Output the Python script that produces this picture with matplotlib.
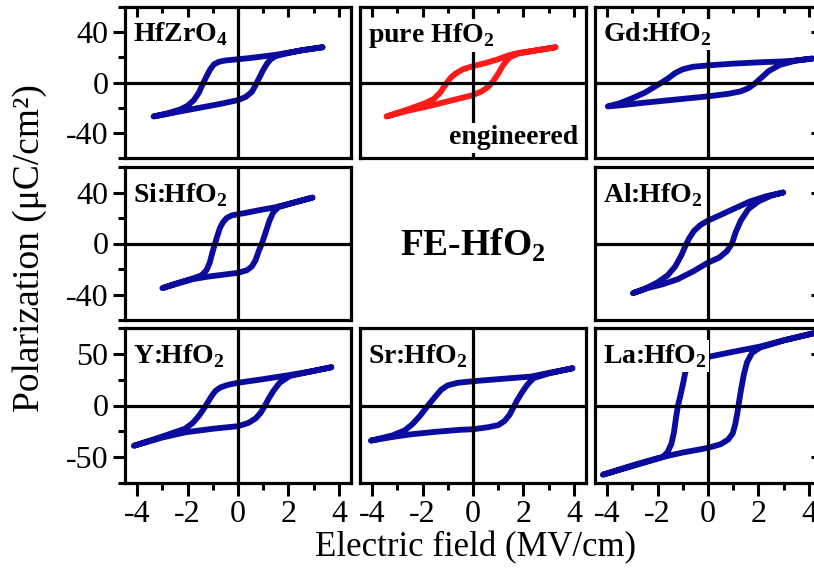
import matplotlib
matplotlib.use("Agg")
import matplotlib.pyplot as plt
from matplotlib.ticker import MultipleLocator

plt.rcParams['font.family'] = ['Liberation Serif', 'DejaVu Serif']
plt.rcParams['mathtext.fontset'] = 'custom'
plt.rcParams['mathtext.rm'] = 'Liberation Serif'
plt.rcParams['mathtext.bf'] = 'Liberation Serif:bold'
plt.rcParams['axes.unicode_minus'] = False

BLUE = '#0b0b9e'
RED = '#ff1a1a'

# P-E loops: upper branch swept from +E to -E, lower branch from -E back to +E
hzo_e_up = [3.35, 2.5, 1.5, 0.5, 0.0, -0.5, -0.75, -0.95, -1.1, -1.22, -1.37, -1.55, -1.75, -2.0, -2.3, -2.8, -3.35]
hzo_p_up = [28, 25.5, 22, 19.5, 18.5, 17.5, 16.5, 14.5, 10.5, 6, 0, -8, -14, -18.5, -21.5, -24.5, -27]
hzo_e_dn = [-3.35, -2.8, -2.3, -1.5, -0.7, 0.0, 0.3, 0.55, 0.7, 0.85, 1.0, 1.15, 1.3, 1.5, 1.9, 2.5, 3.35]
hzo_p_dn = [-27, -25, -23, -20, -17, -14, -11.5, -7.5, -2, 4, 10, 15, 18.5, 21, 23, 25.5, 28]

pure_e_up = [3.27, 2.5, 1.8, 1.4, 1.0, 0.5, 0.0, -0.4, -0.7, -0.9, -1.1, -1.3, -1.55, -1.9, -2.6, -3.43]
pure_p_up = [28, 25.5, 23.5, 21.5, 18.5, 15.5, 13, 10.5, 7, 3.5, -2, -8, -13, -16.5, -21.5, -27]
pure_e_dn = [-3.43, -2.6, -1.8, -1.0, -0.4, 0.0, 0.35, 0.6, 0.8, 1.0, 1.2, 1.45, 1.8, 2.5, 3.27]
pure_p_dn = [-27, -22.5, -19, -15, -12, -10, -7, -3.5, 1, 7, 14, 20, 23, 25.5, 28]

gd_e_up = [4.13, 3.5, 3.0, 2.0, 1.0, 0.0, -0.6, -1.0, -1.3, -1.6, -2.0, -2.5, -3.0, -3.5, -3.97]
gd_p_up = [19, 17.5, 16.8, 16, 15, 13.6, 12.5, 10.5, 7.5, 3, -2, -8, -12.5, -16.5, -19]
gd_e_dn = [-3.97, -3.4, -2.5, -1.0, 0.0, 0.8, 1.3, 1.6, 1.85, 2.1, 2.4, 2.85, 3.5, 4.13]
gd_p_dn = [-19, -18, -16, -13, -11, -9, -7, -4.5, -1, 3.5, 9, 14, 17.5, 19]

si_e_up = [2.95, 2.2, 1.5, 0.8, 0.3, 0.0, -0.25, -0.45, -0.6, -0.72, -0.85, -1.0, -1.12, -1.25, -1.45, -1.8, -2.4, -3.0]
si_p_up = [36, 32, 28.5, 26, 24, 23, 22, 20, 16.5, 12, 4, -6, -15, -21, -25, -27.5, -31, -35]
si_e_dn = [-3.0, -2.4, -1.8, -1.2, -0.6, 0.0, 0.35, 0.55, 0.7, 0.82, 0.95, 1.1, 1.25, 1.4, 1.6, 2.2, 2.95]
si_p_dn = [-35, -31.5, -28, -26, -24.5, -23, -21, -18, -13, -6, 0, 9, 18, 24.5, 28.5, 32, 36]

al_e_up = [2.98, 2.3, 1.67, 1.0, 0.4, 0.0, -0.3, -0.55, -0.75, -0.9, -1.05, -1.3, -1.6, -2.0, -2.5, -2.98]
al_p_up = [40, 37, 33, 27, 21.5, 18, 14.5, 10, 4, -2, -9, -18, -25, -30.5, -35.5, -39]
al_e_dn = [-2.98, -2.4, -1.8, -1.2, -0.6, 0.0, 0.45, 0.75, 0.95, 1.1, 1.3, 1.6, 2.0, 2.5, 2.98]
al_p_dn = [-39, -35, -32, -28, -22, -15, -11, -6, 0, 9, 18, 27, 33, 37.5, 40]

y_e_up = [3.7, 3.0, 2.05, 1.0, 0.0, -0.4, -0.7, -0.9, -1.05, -1.2, -1.35, -1.55, -1.8, -2.1, -3.0, -4.13]
y_p_up = [37, 33.5, 29.5, 25.5, 22, 20, 17.5, 14, 9, 3, -3, -10, -17, -22.5, -30, -39]
y_e_dn = [-4.13, -3.0, -2.1, -1.0, 0.0, 0.4, 0.7, 0.9, 1.05, 1.2, 1.4, 1.65, 2.05, 3.0, 3.7]
y_p_dn = [-39, -31, -26, -22.5, -20, -17, -12.5, -7, -1, 6, 14, 22, 28.5, 33.5, 37]

sr_e_up = [3.94, 3.0, 2.3, 1.0, 0.0, -0.6, -1.0, -1.25, -1.45, -1.65, -1.85, -2.1, -2.4, -2.7, -3.2, -4.05]
sr_p_up = [36, 31.5, 28, 25.5, 23.5, 22, 19.5, 15.5, 10, 4, -2, -10, -18, -24, -29, -34]
sr_e_dn = [-4.05, -3.2, -2.5, -1.5, -0.5, 0.0, 0.6, 1.0, 1.25, 1.45, 1.6, 1.75, 1.95, 2.15, 2.4, 3.0, 3.94]
sr_p_dn = [-34, -30.5, -28, -25.5, -23.5, -23, -21, -19, -15, -9, -2, 5, 13, 20, 26.5, 31, 36]

la_e_up = [4.2, 3.0, 2.06, 1.0, 0.0, -0.4, -0.65, -0.8, -0.9, -1.0, -1.1, -1.19, -1.27, -1.35, -1.45, -1.6, -1.8, -2.0]
la_p_up = [70, 63, 57, 52, 47, 45, 42, 38, 32, 20, 9, 0, -12, -26, -37, -45, -50, -51.5]
la_e_dn = [-4.17, -3.0, -2.0, -1.0, 0.0, 0.5, 0.8, 0.98, 1.08, 1.16, 1.22, 1.3, 1.42, 1.55, 1.75, 2.06, 3.0, 4.2]
la_p_dn = [-67, -58, -51, -45.5, -41, -37.5, -33, -27, -18, -8, 2, 14, 30, 42, 51, 56, 63, 70]

panels = [
    # row, col, label, loop, colour
    (0, 0, r'HfZrO$_\mathbf{4}$', (hzo_e_up, hzo_p_up, hzo_e_dn, hzo_p_dn), BLUE),
    (0, 1, r'pure HfO$_\mathbf{2}$', (pure_e_up, pure_p_up, pure_e_dn, pure_p_dn), RED),
    (0, 2, r'Gd:HfO$_\mathbf{2}$', (gd_e_up, gd_p_up, gd_e_dn, gd_p_dn), BLUE),
    (1, 0, r'Si:HfO$_\mathbf{2}$', (si_e_up, si_p_up, si_e_dn, si_p_dn), BLUE),
    (1, 2, r'Al:HfO$_\mathbf{2}$', (al_e_up, al_p_up, al_e_dn, al_p_dn), BLUE),
    (2, 0, r'Y:HfO$_\mathbf{2}$', (y_e_up, y_p_up, y_e_dn, y_p_dn), BLUE),
    (2, 1, r'Sr:HfO$_\mathbf{2}$', (sr_e_up, sr_p_up, sr_e_dn, sr_p_dn), BLUE),
    (2, 2, r'La:HfO$_\mathbf{2}$', (la_e_up, la_p_up, la_e_dn, la_p_dn), BLUE),
]

W, H = 814, 571
col_left = [125, 360, 595]
col_w = 226
row_top = [7, 167, 328]
row_h = [151, 153, 155]
ylims = [60, 60, 75]
ymajor = [40, 40, 50]

fig = plt.figure(figsize=(W / 100, H / 100), dpi=100)

for row, col, label, loop, color in panels:
    ax = fig.add_axes([col_left[col] / W, 1 - (row_top[row] + row_h[row]) / H,
                       col_w / W, row_h[row] / H])
    e_up, p_up, e_dn, p_dn = loop
    ax.plot(list(e_up) + list(e_dn), list(p_up) + list(p_dn), color=color, lw=4.2,
            solid_capstyle='round', solid_joinstyle='round', zorder=2)
    ax.axhline(0, color='black', lw=2.3, zorder=3)
    ax.axvline(0, color='black', lw=2.3, zorder=3)
    ax.set_xlim(-4.48, 4.48)
    ax.set_ylim(-ylims[row], ylims[row])
    for s in ax.spines.values():
        s.set_linewidth(2.3)

    ax.xaxis.set_major_locator(MultipleLocator(2))
    ax.xaxis.set_minor_locator(MultipleLocator(1))
    ax.yaxis.set_major_locator(MultipleLocator(ymajor[row]))
    ax.yaxis.set_minor_locator(MultipleLocator(ymajor[row] / 2))

    ax.tick_params(which='both', top=False, bottom=False, left=False, right=False,
                   labeltop=False, labelbottom=False, labelleft=False, labelright=False,
                   width=2.2, labelsize=23, pad=3)
    if row == 0:
        ax.tick_params(axis='x', which='both', top=True, direction='in')
        ax.tick_params(axis='x', which='major', length=7)
        ax.tick_params(axis='x', which='minor', length=4)
    if row == 2:
        ax.tick_params(axis='x', which='both', bottom=True, labelbottom=True, direction='out')
        ax.tick_params(axis='x', which='major', length=9)
        ax.tick_params(axis='x', which='minor', length=5)
    if col == 0:
        ax.tick_params(axis='y', which='both', left=True, labelleft=True, direction='out')
        ax.tick_params(axis='y', which='major', length=9)
        ax.tick_params(axis='y', which='minor', length=5)
    if col == 2:
        ax.tick_params(axis='y', which='both', right=True, direction='in')
        ax.tick_params(axis='y', which='major', length=7)
        ax.tick_params(axis='y', which='minor', length=4)

    ax.text(0.035, 0.91, label, transform=ax.transAxes, ha='left', va='top',
            fontsize=20, fontweight='bold', zorder=5,
            bbox=dict(facecolor='white', edgecolor='none', pad=1.5))
    if row == 0 and col == 1:
        ax.text(0.965, 0.09, 'engineered', transform=ax.transAxes, ha='right',
                va='baseline', fontsize=20, fontweight='bold', zorder=5,
                bbox=dict(facecolor='white', edgecolor='none', pad=2))

fig.text(473 / W, 1 - 245 / H, r'FE-HfO$_\mathbf{2}$', ha='center', va='center',
         fontsize=27, fontweight='bold')
fig.text(30 / W, 1 - 248 / H, 'Polarization (μC/cm²)', rotation=90,
         ha='center', va='center', fontsize=27)
fig.text(476 / W, 1 - 548 / H, 'Electric field (MV/cm)', ha='center', va='center',
         fontsize=25)

fig.savefig('out.png', dpi=100)
